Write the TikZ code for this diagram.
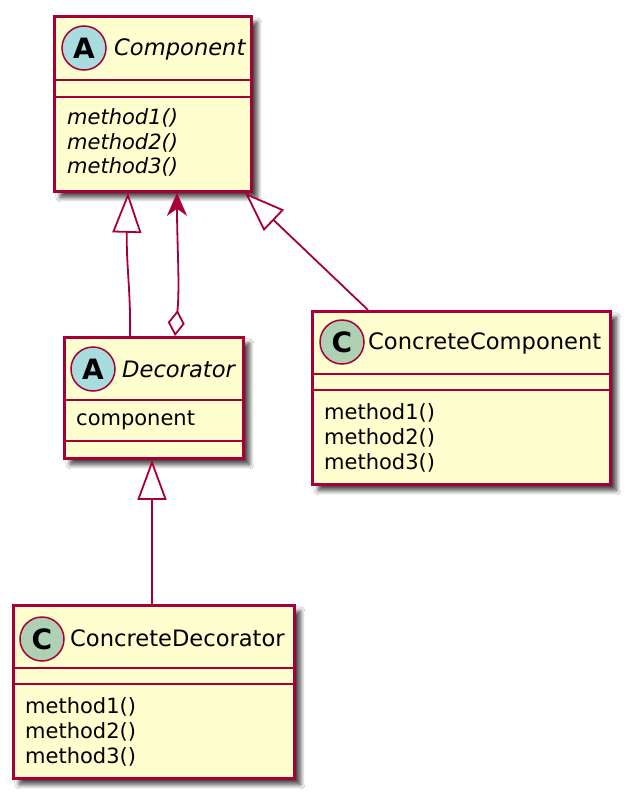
\documentclass[tikz,border=0pt]{standalone}
\usepackage{fontspec}
\setmainfont{DejaVu Sans}
\usetikzlibrary{arrows.meta,shadows.blur}
\definecolor{umlred}{RGB}{168,0,54}
\definecolor{umlfill}{RGB}{254,254,206}
\definecolor{abscirc}{RGB}{169,220,223}
\definecolor{clscirc}{RGB}{173,209,178}
\tikzset{
 classbox/.style={draw=umlred, fill=umlfill, line width=2.8pt, anchor=north west, inner sep=0pt,
   blur shadow={shadow xshift=6pt, shadow yshift=-6pt, shadow blur steps=10, shadow blur radius=4.5pt, shadow opacity=75}},
 sepline/.style={draw=umlred, line width=2.8pt},
 spot/.style={circle, draw=umlred, line width=1.5pt, minimum size=44pt, inner sep=0pt,
   font=\fontsize{28}{28}\selectfont\bfseries},
 clsname/.style={anchor=west, inner sep=0pt, font=\fontsize{22.6}{26}\selectfont},
 absname/.style={anchor=west, inner sep=0pt, font=\fontsize{22.6}{26}\selectfont\itshape},
 member/.style={anchor=west, inner sep=0pt, font=\fontsize{21}{25}\selectfont},
 absmember/.style={anchor=west, inner sep=0pt, font=\fontsize{21}{25}\selectfont\itshape},
 link/.style={draw=umlred, line width=1.8pt},
 inherit/.style={link, -{Triangle[length=40pt,width=29pt,fill=white]}},
 aggr/.style={link, {Diamond[length=26pt,width=17pt,fill=white]}-{Stealth[length=23pt,width=20pt,inset=7pt]}},
}
\begin{document}
\begin{tikzpicture}[x=1pt,y=-1pt]
\useasboundingbox (0,0) rectangle (629,797);
\fill[white] (0,0) rectangle (629,797);

% Component
\node[classbox, minimum width=197pt, minimum height=175pt] (comp) at (53,15) {};
\draw[sepline] (comp.west |- 0,80) -- (comp.east |- 0,80);
\draw[sepline] (comp.west |- 0,97) -- (comp.east |- 0,97);
\node[spot, fill=abscirc] (compspot) at (84,48) {A};
\node[absname] (compname) at (114,49) {Component};
\node[absmember] (compm1) at (67,118) {method1()};
\node[absmember] (compm2) at (67,143) {method2()};
\node[absmember] (compm3) at (67,167) {method3()};

% Decorator
\node[classbox, minimum width=179pt, minimum height=121pt] (dec) at (63,336) {};
\draw[sepline] (dec.west |- 0,400) -- (dec.east |- 0,400);
\draw[sepline] (dec.west |- 0,441) -- (dec.east |- 0,441);
\node[spot, fill=abscirc] (decspot) at (93,369) {A};
\node[absname] (decname) at (122,369) {Decorator};
\node[member] (decf1) at (76,420) {component};

% ConcreteComponent
\node[classbox, minimum width=298pt, minimum height=173pt] (cc) at (311,310) {};
\draw[sepline] (cc.west |- 0,374) -- (cc.east |- 0,374);
\draw[sepline] (cc.west |- 0,390) -- (cc.east |- 0,390);
\node[spot, fill=clscirc] (ccspot) at (342,342) {C};
\node[clsname] (ccname) at (368,343) {ConcreteComponent};
\node[member] (ccm1) at (324,413) {method1()};
\node[member] (ccm2) at (324,438) {method2()};
\node[member] (ccm3) at (324,463) {method3()};

% ConcreteDecorator
\node[classbox, minimum width=281pt, minimum height=173pt] (cd) at (12,604) {};
\draw[sepline] (cd.west |- 0,668) -- (cd.east |- 0,668);
\draw[sepline] (cd.west |- 0,684) -- (cd.east |- 0,684);
\node[spot, fill=clscirc] (cdspot) at (42,639) {C};
\node[clsname] (cdname) at (70,638) {ConcreteDecorator};
\node[member] (cdm1) at (25,707) {method1()};
\node[member] (cdm2) at (25,732) {method2()};
\node[member] (cdm3) at (25,757) {method3()};

% connectors
\draw[inherit] (dec.north -| 130,0) .. controls (131,295) and (126,262) .. (comp.south -| 128,0);
\draw[aggr] (dec.north -| 175,0) .. controls (180,285) and (177,245) .. (comp.south -| 177,0);
\draw[inherit] (cc.north -| 368,0) -- (comp.south -| 245,0);
\draw[inherit] (cd.north -| 152,0) -- (dec.south -| 152,0);
\end{tikzpicture}
\end{document}
